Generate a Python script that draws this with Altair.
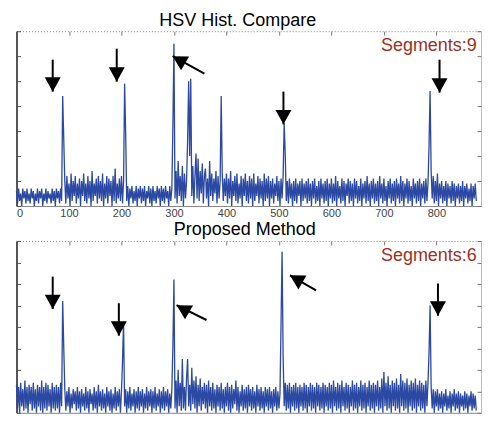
import altair as alt
import pandas as pd

# ---------------- data ----------------
STEP = 2  # sample spacing along the x axis

# HSV Hist. Compare (values in tenths of a y unit, axis 0..70), x = 0, 2, 4, ...
hsv_values = [
    6, 1, 7, 2, 5, 0, 7, 3, 6, 1, 7, 2, 5, 1, 7, 3, 6, 0, 5, 2,
    7, 1, 6, 3, 7, 0, 5, 2, 7, 1, 6, 3, 5, 1, 7, 2, 6, 0, 7, 3,
    6, 1, 7, 2, 44, 27, 10, 1, 12, 3, 9, 0, 13, 2, 10, 4, 12, 1, 9, 3,
    11, 0, 10, 4, 13, 2, 9, 1, 12, 3, 10, 0, 14, 2, 9, 4, 11, 1, 12, 3,
    10, 2, 13, 0, 9, 3, 12, 1, 11, 4, 10, 0, 12, 2, 15, 1, 9, 3, 11, 2,
    12, 1, 10, 49, 29, 2, 8, 0, 7, 3, 8, 1, 6, 2, 8, 0, 7, 3, 8, 1,
    7, 2, 8, 0, 6, 3, 8, 1, 7, 0, 8, 2, 6, 1, 8, 3, 7, 0, 8, 2,
    7, 1, 8, 3, 6, 0, 8, 2, 7, 32, 65, 3, 14, 1, 18, 4, 12, 2, 16, 0,
    13, 3, 10, 26, 50, 20, 51, 4, 16, 1, 12, 21, 3, 19, 2, 14, 5, 17, 1, 12,
    15, 3, 11, 0, 18, 4, 13, 2, 11, 5, 14, 1, 12, 3, 10, 44, 13, 2, 11, 4,
    13, 1, 11, 3, 14, 0, 10, 4, 12, 2, 13, 1, 9, 3, 12, 0, 11, 4, 13, 2,
    10, 1, 12, 3, 11, 0, 13, 2, 9, 4, 12, 1, 11, 3, 10, 0, 13, 2, 11, 3,
    12, 0, 10, 3, 11, 1, 9, 4, 12, 2, 10, 0, 11, 3, 12, 33, 21, 2, 10, 1,
    11, 3, 9, 0, 10, 2, 11, 1, 9, 4, 10, 0, 11, 2, 9, 3, 10, 1, 11, 2,
    9, 0, 10, 3, 11, 1, 8, 2, 10, 0, 11, 3, 9, 1, 10, 2, 11, 0, 9, 3,
    11, 1, 9, 2, 12, 0, 10, 3, 8, 1, 11, 2, 10, 0, 9, 4, 11, 1, 10, 2,
    9, 0, 11, 3, 10, 1, 8, 2, 11, 0, 9, 3, 10, 1, 12, 2, 9, 0, 10, 3,
    11, 1, 9, 2, 10, 0, 12, 3, 9, 1, 11, 2, 8, 0, 10, 3, 11, 1, 9, 2,
    10, 0, 11, 3, 9, 1, 12, 2, 10, 0, 9, 3, 11, 1, 10, 2, 8, 0, 11, 3,
    9, 1, 10, 2, 11, 0, 9, 3, 10, 1, 11, 2, 9, 24, 46, 14, 3, 12, 1, 10,
    2, 13, 0, 9, 3, 10, 1, 8, 2, 10, 0, 9, 3, 8, 1, 10, 2, 9, 0, 8,
    3, 9, 1, 8, 2, 10, 0, 8, 3, 9, 1, 7, 2, 9, 0, 8, 3, 9, 2,
]

# Proposed Method (values in tenths of a y unit, axis 0..80), x = 0, 2, 4, ...
proposed_values = [
    13, 2, 12, 0, 14, 3, 11, 1, 15, 2, 12, 0, 13, 4, 12, 1, 14, 2, 11, 0,
    13, 3, 12, 1, 15, 0, 12, 2, 14, 1, 13, 3, 11, 0, 14, 2, 12, 1, 13, 2,
    12, 0, 14, 3, 52, 31, 11, 1, 10, 3, 12, 0, 9, 2, 11, 4, 10, 1, 12, 2,
    10, 0, 11, 3, 9, 1, 12, 2, 10, 0, 11, 4, 9, 1, 12, 2, 10, 0, 13, 3,
    10, 1, 11, 2, 9, 0, 12, 3, 10, 1, 11, 0, 9, 2, 12, 1, 10, 3, 11, 0,
    10, 24, 42, 3, 11, 0, 10, 2, 12, 1, 9, 3, 11, 0, 10, 2, 12, 1, 10, 3,
    11, 0, 9, 2, 12, 1, 10, 3, 11, 0, 10, 2, 12, 1, 9, 3, 11, 0, 10, 2,
    12, 1, 10, 3, 11, 0, 9, 2, 11, 31, 62, 2, 15, 0, 20, 3, 14, 1, 25, 2,
    12, 1, 16, 25, 3, 13, 1, 21, 4, 15, 2, 17, 0, 13, 3, 16, 1, 12, 4, 14,
    2, 13, 0, 15, 3, 12, 1, 14, 2, 11, 0, 13, 3, 12, 1, 14, 2, 11, 0, 12,
    3, 14, 1, 12, 0, 13, 2, 11, 4, 15, 1, 12, 0, 10, 3, 13, 1, 11, 2, 12,
    0, 13, 3, 11, 1, 12, 2, 10, 0, 13, 3, 11, 1, 12, 2, 10, 0, 12, 3, 11,
    1, 12, 2, 10, 0, 11, 3, 12, 1, 10, 2, 9, 41, 75, 26, 3, 14, 1, 13, 2,
    14, 0, 12, 3, 13, 1, 14, 2, 12, 0, 13, 3, 12, 1, 14, 2, 13, 0, 12, 3,
    14, 1, 13, 2, 12, 0, 14, 3, 13, 1, 12, 2, 14, 0, 13, 3, 12, 1, 14, 2,
    13, 0, 15, 3, 12, 1, 14, 2, 13, 0, 15, 3, 12, 1, 14, 2, 13, 0, 12, 3,
    15, 1, 13, 2, 14, 0, 12, 3, 15, 1, 13, 2, 14, 0, 12, 3, 15, 1, 13, 2,
    14, 0, 13, 3, 15, 1, 12, 2, 16, 0, 19, 3, 14, 1, 17, 2, 13, 0, 15, 3,
    14, 1, 16, 2, 13, 0, 18, 3, 15, 1, 14, 2, 16, 0, 13, 3, 15, 1, 14, 2,
    16, 0, 13, 3, 15, 1, 14, 2, 13, 0, 15, 3, 14, 28, 50, 12, 2, 11, 0, 10,
    3, 11, 1, 9, 2, 10, 0, 9, 3, 11, 1, 8, 2, 10, 0, 9, 3, 11, 1, 9,
    2, 10, 0, 9, 3, 8, 1, 10, 2, 9, 0, 8, 3, 10, 1, 9, 2, 8, 1,
]

x_domain = [0, 885]          # the picture is cropped just short of 900
x_ticks = [0, 100, 200, 300, 400, 500, 600, 700, 800]
top_y_ticks = [0, 10, 20, 30, 40, 50, 60, 70]
bottom_y_ticks = [0, 10, 20, 30, 40, 50, 60, 70, 80]

titles = ["HSV Hist. Compare", "Proposed Method"]
segment_labels = ["Segments:9", "Segments:6"]
segment_pos = [(877, 64), (877, 73)]

# arrow annotations: tail (x, y) -> tip (x2, y2)
arrows_top = {
    "x": [69, 191, 358, 508.6, 806],
    "y": [58.6, 63.0, 53.0, 45.8, 58.6],
    "x2": [69, 191, 297.5, 508.6, 806],
    "y2": [45.8, 49.8, 60.0, 32.7, 45.4],
    "angle": [0, 0, 120, 0, 0],
}
arrows_bottom = {
    "x": [69, 195, 362, 570.7, 803],
    "y": [63.4, 51.0, 43.2, 57.0, 60.2],
    "x2": [69, 195, 305, 521, 803],
    "y2": [48.3, 35.9, 50.1, 64.0, 45.2],
    "angle": [0, 0, 120, 120, 0],
}

# ---------------- styling ----------------
BLUE = "#2B49A2"
FONT = "Liberation Sans"
HEAD = "M0,0L-1,-1.8L1,-1.8Z"  # arrow head with its tip at the origin
W = 465


def panel(values, arrows, title, seg_label, seg_xy, ymax, yticks, height, title_dx):
    df = pd.DataFrame({"x": [i * STEP for i in range(len(values))], "v": values})
    adf = pd.DataFrame(arrows)
    tdf = pd.DataFrame({"x": [seg_xy[0]], "y": [seg_xy[1]], "t": [seg_label]})

    xs = alt.Scale(domain=x_domain, nice=False, zero=False)
    ys = alt.Scale(domain=[0, ymax], nice=False, zero=True)

    line = alt.Chart(df).mark_line(color=BLUE, strokeWidth=1.3).encode(
        x=alt.X("x:Q", scale=xs, axis=alt.Axis(
            orient="bottom", values=x_ticks, ticks=False, tickSize=0, domain=True,
            domainColor="#888", domainWidth=1, labelFont=FONT, labelFontSize=11,
            labelColor="#444", labelPadding=2, title=None, grid=False)),
        y=alt.Y("v:Q", scale=ys, axis=alt.Axis(
            orient="left", ticks=False, labels=False, domain=True, domainColor="#555",
            domainWidth=2, title=None, grid=False)),
    )
    rules = alt.Chart(adf).mark_rule(color="black", strokeWidth=2).encode(
        x=alt.X("x:Q", scale=xs, axis=alt.Axis(
            orient="top", ticks=False, labels=False, domain=True, domainColor="#888",
            domainDash=[1, 2], title=None, grid=False)),
        y=alt.Y("y:Q", scale=ys, axis=alt.Axis(
            orient="right", ticks=False, labels=False, domain=True, domainColor="#bbb",
            title=None, grid=False)),
        x2="x2:Q",
        y2="y2:Q",
    )
    heads = alt.Chart(adf).mark_point(
        shape=HEAD, filled=True, size=256, color="black", opacity=1, strokeWidth=0
    ).encode(
        x=alt.X("x2:Q", scale=xs, axis=alt.Axis(
            orient="top", offset=-4, tickSize=4, ticks=True, tickColor="#777",
            values=x_ticks, labels=False, domain=False, title=None, grid=False)),
        y=alt.Y("y2:Q", scale=ys, axis=alt.Axis(
            orient="left", offset=-4, tickSize=4, ticks=True, tickColor="#555",
            values=yticks, labels=False, domain=False, title=None, grid=False)),
        angle=alt.Angle("angle:Q", scale=None),
    )
    text = alt.Chart(tdf).mark_text(
        align="right", baseline="middle", font=FONT, fontSize=18, color="#A0301F"
    ).encode(
        x=alt.X("x:Q", scale=xs, axis=None),
        y=alt.Y("y:Q", scale=ys, axis=alt.Axis(
            orient="right", offset=-4, tickSize=4, ticks=True, tickColor="#777",
            values=yticks, labels=False, domain=False, title=None, grid=False)),
        text="t:N",
    )
    return alt.layer(line, rules, heads, text).resolve_axis(
        x="independent", y="independent"
    ).properties(
        width=W,
        height=height,
        title=alt.TitleParams(
            title, font=FONT, fontSize=18, fontWeight="normal", color="black",
            anchor="middle", offset=1, dx=title_dx,
        ),
    )


top = panel(hsv_values, arrows_top, titles[0], segment_labels[0], segment_pos[0],
            70, top_y_ticks, 175, -11)
bottom = panel(proposed_values, arrows_bottom, titles[1], segment_labels[1], segment_pos[1],
               80, bottom_y_ticks, 172, -4)

chart = alt.vconcat(top, bottom, spacing=2).properties(
    padding={"left": 5.5, "top": 3, "right": 0, "bottom": -12},
    background="white",
).configure_view(stroke=None)

chart.save("out.html", embed_options={"renderer": "svg", "actions": False})
